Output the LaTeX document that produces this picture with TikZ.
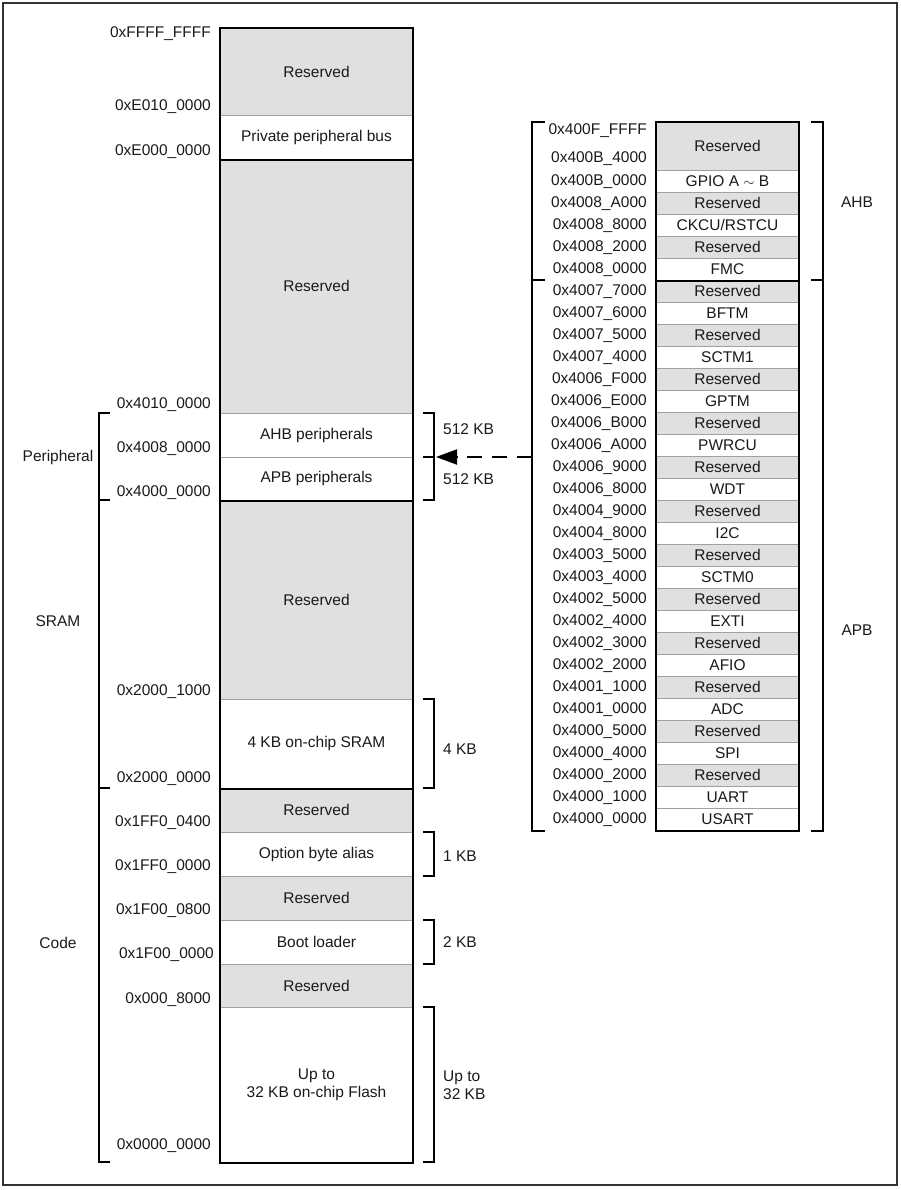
\documentclass[tikz,border=0pt]{standalone}
\usepackage{fontspec}
\setmainfont{Liberation Sans}
\usetikzlibrary{arrows.meta}
\definecolor{resgray}{HTML}{E0E0E0}
\definecolor{sepgray}{HTML}{A0A0A0}
\definecolor{ink}{HTML}{1A1A1A}
\definecolor{framecol}{HTML}{333333}
\newcommand\lblfont{\fontsize{15.5}{18.5}\selectfont}
\begin{document}
\begin{tikzpicture}[x=1pt,y=-1pt,
  every node/.style={text=ink, font=\lblfont},
  mblk/.style={draw=sepgray, line width=0.8pt, minimum width=193pt, inner sep=0pt, anchor=north, align=center},
  rblk/.style={draw=sepgray, line width=0.8pt, minimum width=143pt, inner sep=0pt, anchor=north, align=center},
  addr/.style={anchor=east, inner sep=0pt},
  sizelbl/.style={anchor=west, inner sep=0pt, align=left},
  grplbl/.style={inner sep=0pt},
  thickline/.style={draw=black, line width=2pt},
  brk/.style={draw=black, line width=2pt},
  frameline/.style={draw=framecol, line width=2.5pt}
]
\useasboundingbox (0,0) rectangle (900,1190);
\draw[frameline] (3,3) rectangle (897,1185);

% ---------------- main column ----------------
\node[mblk, fill=resgray, minimum height=87pt]  (res1)  at (316.5,28)   {Reserved};
\node[mblk, fill=white,   minimum height=44pt]  (ppb)   at (316.5,115)  {Private peripheral bus};
\node[mblk, fill=resgray, minimum height=254pt] (res2)  at (316.5,159)  {Reserved};
\node[mblk, fill=white,   minimum height=44pt]  (ahb)   at (316.5,413)  {AHB peripherals};
\node[mblk, fill=white,   minimum height=43pt]  (apb)   at (316.5,457)  {APB peripherals};
\node[mblk, fill=resgray, minimum height=199pt] (res3)  at (316.5,500)  {Reserved};
\node[mblk, fill=white,   minimum height=89pt]  (sram)  at (316.5,699)  {4 KB on-chip SRAM};
\node[mblk, fill=resgray, minimum height=44pt]  (res4)  at (316.5,788)  {Reserved};
\node[mblk, fill=white,   minimum height=44pt]  (opt)   at (316.5,832)  {Option byte alias};
\node[mblk, fill=resgray, minimum height=44pt]  (res5)  at (316.5,876)  {Reserved};
\node[mblk, fill=white,   minimum height=44pt]  (boot)  at (316.5,920)  {Boot loader};
\node[mblk, fill=resgray, minimum height=43pt]  (res6)  at (316.5,964)  {Reserved};
\node[mblk, fill=white,   minimum height=155pt] (flash) at (316.5,1007) {Up to\\32 KB on-chip Flash};

\draw[thickline] (res1.north west) rectangle (flash.south east);
\draw[thickline] (ppb.south west) -- (ppb.south east);
\draw[thickline] (apb.south west) -- (apb.south east);
\draw[thickline] (sram.south west) -- (sram.south east);

% addresses, main column
\node[addr] (a1)  at (211,34)   {0xFFFF\_FFFF};
\node[addr] (a2)  at (211,107)  {0xE010\_0000};
\node[addr] (a3)  at (211,152)  {0xE000\_0000};
\node[addr] (a4)  at (211,405)  {0x4010\_0000};
\node[addr] (a5)  at (211,449)  {0x4008\_0000};
\node[addr] (a6)  at (211,493)  {0x4000\_0000};
\node[addr] (a7)  at (211,692)  {0x2000\_1000};
\node[addr] (a8)  at (211,779)  {0x2000\_0000};
\node[addr] (a9)  at (211,823)  {0x1FF0\_0400};
\node[addr] (a10) at (211,867)  {0x1FF0\_0000};
\node[addr] (a11) at (211,911)  {0x1F00\_0800};
\node[addr] (a12) at (214,955)  {0x1F00\_0000};
\node[addr] (a13) at (211,1000) {0x000\_8000};
\node[addr] (a14) at (211,1146) {0x0000\_0000};

% left group brackets
\draw[brk] (110,413) -- (99,413) -- (99,1162) -- (110,1162);
\draw[brk] (99,500) -- (110,500);
\draw[brk] (99,788) -- (110,788);
\node[grplbl] (gper)  at (58,457) {Peripheral};
\node[grplbl] (gsram) at (58,621) {SRAM};
\node[grplbl] (gcode) at (58,943) {Code};

% right size brackets
\draw[brk] (423,413) -- (434,413) -- (434,500) -- (423,500);
\draw[brk] (423,457) -- (434,457);
\draw[brk] (423,699) -- (434,699) -- (434,788) -- (423,788);
\draw[brk] (423,832) -- (434,832) -- (434,876) -- (423,876);
\draw[brk] (423,920) -- (434,920) -- (434,964) -- (423,964);
\draw[brk] (423,1007) -- (434,1007) -- (434,1162) -- (423,1162);
\node[sizelbl] (s1) at (443,429) {512 KB};
\node[sizelbl] (s2) at (443,479) {512 KB};
\node[sizelbl] (s3) at (443,749) {4 KB};
\node[sizelbl] (s4) at (443,856) {1 KB};
\node[sizelbl] (s5) at (443,942) {2 KB};
\node[sizelbl] (s6) at (443,1085) {Up to\\32 KB};

% ---------------- right column ----------------
\node[rblk, fill=resgray, minimum height=48pt] (rtop) at (727.5,122) {Reserved};
\foreach \t/\f/\a [count=\i from 0] in {
  {GPIO A $\sim$ B}/white/{0x400B\_0000},
  Reserved/resgray/{0x4008\_A000},
  {CKCU/RSTCU}/white/{0x4008\_8000},
  Reserved/resgray/{0x4008\_2000},
  FMC/white/{0x4008\_0000},
  Reserved/resgray/{0x4007\_7000},
  BFTM/white/{0x4007\_6000},
  Reserved/resgray/{0x4007\_5000},
  SCTM1/white/{0x4007\_4000},
  Reserved/resgray/{0x4006\_F000},
  GPTM/white/{0x4006\_E000},
  Reserved/resgray/{0x4006\_B000},
  PWRCU/white/{0x4006\_A000},
  Reserved/resgray/{0x4006\_9000},
  WDT/white/{0x4006\_8000},
  Reserved/resgray/{0x4004\_9000},
  I2C/white/{0x4004\_8000},
  Reserved/resgray/{0x4003\_5000},
  SCTM0/white/{0x4003\_4000},
  Reserved/resgray/{0x4002\_5000},
  EXTI/white/{0x4002\_4000},
  Reserved/resgray/{0x4002\_3000},
  AFIO/white/{0x4002\_2000},
  Reserved/resgray/{0x4001\_1000},
  ADC/white/{0x4001\_0000},
  Reserved/resgray/{0x4000\_5000},
  SPI/white/{0x4000\_4000},
  Reserved/resgray/{0x4000\_2000},
  UART/white/{0x4000\_1000},
  USART/white/{0x4000\_0000}}
{
  \node[rblk, fill=\f, minimum height=22pt] (row\i) at (727.5,{170+22*\i}) {\t};
  \node[addr] (ra\i) at (647,{182+22*\i}) {\a};
}
\node[addr] (rtopA) at (647,131) {0x400F\_FFFF};
\node[addr] (rtopB) at (647,159) {0x400B\_4000};

\draw[thickline] (rtop.north west) rectangle (row29.south east);
\draw[thickline] (row4.south west) -- (row4.south east);

% right column brackets
\draw[brk] (545,122) -- (532,122) -- (532,831) -- (545,831);
\draw[brk] (532,280) -- (545,280);
\draw[brk] (811,122) -- (823,122) -- (823,831) -- (811,831);
\draw[brk] (811,280) -- (823,280);
\node[grplbl] (gahb) at (857,202) {AHB};
\node[grplbl] (gapbr) at (857,630) {APB};

% dashed arrow
\coordinate (arrS) at (532,457);
\coordinate (arrE) at (436,457);
\draw[black, line width=2pt, dash pattern=on 15pt off 10pt, -{Triangle[length=21pt,width=15pt]}] (arrS) -- (arrE);
\end{tikzpicture}
\end{document}
